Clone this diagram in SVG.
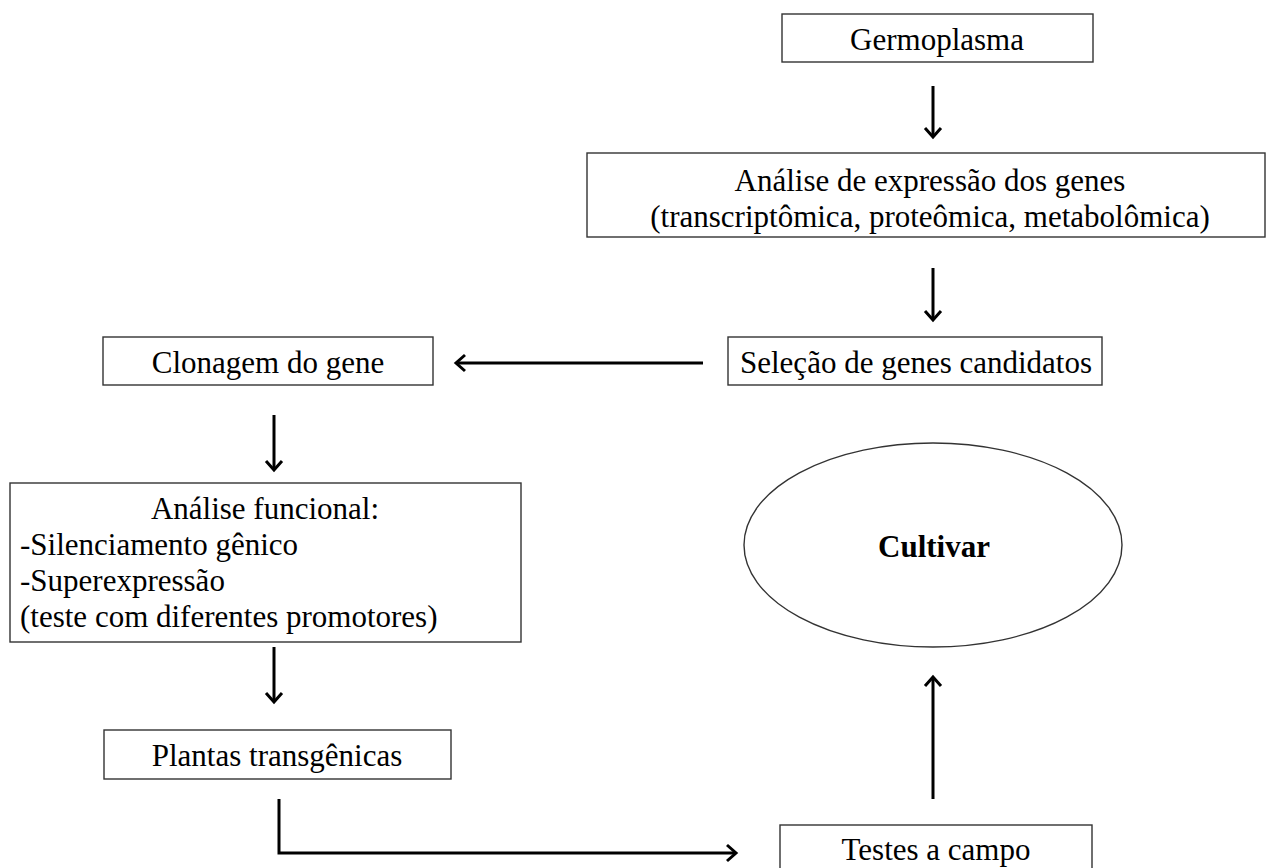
<svg xmlns="http://www.w3.org/2000/svg" width="1270" height="868" viewBox="0 0 1270 868">
<style>
.box{fill:#fff;stroke:#333;stroke-width:1.4}
.t{font-family:"Liberation Serif","Times New Roman",serif;font-size:31px;fill:#000}
.c{text-anchor:middle}
.b{font-weight:bold}
.con{fill:none;stroke:#000;stroke-width:3}
</style>
<defs>
<marker id="ah" markerUnits="userSpaceOnUse" viewBox="0 0 20 20" refX="11" refY="10" markerWidth="20" markerHeight="20" orient="auto">
<path d="M2,2 L11,10 L2,18" fill="none" stroke="#000" stroke-width="3"/>
</marker>
</defs>
<rect width="1270" height="868" fill="#fff"/>
<g id="connectors">
<line class="con" x1="933" y1="86" x2="933" y2="137" marker-end="url(#ah)"/>
<line class="con" x1="933" y1="268" x2="933" y2="320" marker-end="url(#ah)"/>
<line class="con" x1="703" y1="363" x2="456" y2="363" marker-end="url(#ah)"/>
<line class="con" x1="274" y1="415" x2="274" y2="470" marker-end="url(#ah)"/>
<line class="con" x1="274" y1="647" x2="274" y2="702" marker-end="url(#ah)"/>
<polyline class="con" points="279,799 279,853 736,853" marker-end="url(#ah)"/>
<line class="con" x1="933" y1="799" x2="933" y2="677" marker-end="url(#ah)"/>
</g>
<g id="germoplasma">
<rect class="box" x="782" y="14" width="311" height="48"/>
<text class="t c" x="937" y="50">Germoplasma</text>
</g>
<g id="analise-expressao">
<rect class="box" x="587" y="153" width="678" height="84"/>
<text class="t c" x="930" y="191">Análise de expressão dos genes</text>
<text class="t c" x="930" y="227">(transcriptômica, proteômica, metabolômica)</text>
</g>
<g id="selecao">
<rect class="box" x="728" y="337" width="374" height="48"/>
<text class="t" x="740" y="373">Seleção de genes candidatos</text>
</g>
<g id="clonagem">
<rect class="box" x="103" y="337" width="330" height="48"/>
<text class="t c" x="268" y="373">Clonagem do gene</text>
</g>
<g id="analise-funcional">
<rect class="box" x="10" y="483" width="511" height="159"/>
<text class="t c" x="265" y="519">Análise funcional:</text>
<text class="t" x="20" y="555">-Silenciamento gênico</text>
<text class="t" x="20" y="591">-Superexpressão</text>
<text class="t" x="20" y="627">(teste com diferentes promotores)</text>
</g>
<g id="plantas">
<rect class="box" x="104" y="730" width="347" height="49"/>
<text class="t c" x="277" y="766">Plantas transgênicas</text>
</g>
<g id="testes">
<rect class="box" x="780" y="825" width="312" height="50"/>
<text class="t c" x="936" y="860">Testes a campo</text>
</g>
<g id="cultivar">
<ellipse cx="933" cy="545" rx="189" ry="102" fill="#fff" stroke="#333" stroke-width="1.4"/>
<text class="t c b" x="934" y="557">Cultivar</text>
</g>
</svg>
